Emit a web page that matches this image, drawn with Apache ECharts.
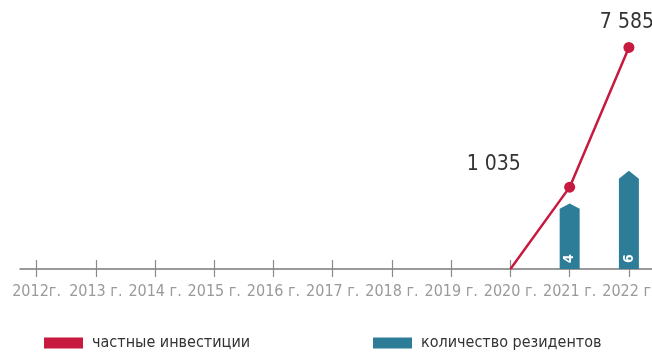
<!DOCTYPE html>
<html>
<head>
<meta charset="utf-8">
<script src="https://cdn.jsdelivr.net/npm/echarts@6/dist/echarts.min.js"></script>
<style>
html,body{margin:0;padding:0;background:#fff;}
#c{width:652px;height:354px;}
</style>
</head>
<body>
<div id="c"></div>
<script>
const years = [2012, 2013, 2014, 2015, 2016, 2017, 2018, 2019, 2020, 2021, 2022];
const yearLabels = ['2012г.', '2013 г.', '2014 г.', '2015 г.', '2016 г.', '2017 г.', '2018 г.', '2019 г.', '2020 г.', '2021 г.', '2022 г.'];
const investYears = [2020, 2021, 2022];
const investments = [0, 1035, 7585];
const residentYears = [2021, 2022];
const residents = [4, 6];
const seriesNames = ['частные инвестиции', 'количество резидентов'];

const RED = '#c8193f';
const TEAL = '#2e7d98';
const FONT = "'Liberation Sans Narrow', 'DejaVu Sans Condensed', 'Liberation Sans', sans-serif";

function fmt(v) { return String(v).replace(/\B(?=(\d{3})+(?!\d))/g, ' '); }

const investLabelOffsets = [null, [-76, -2], [-2, -4]];
const lineData = investYears.map((y, i) => {
  const v = investments[i];
  const d = { value: [y, Math.sqrt(v)], raw: v };
  if (v === 0) { d.symbolSize = 0; d.label = { show: false }; }
  else d.label = { show: true, position: 'top', offset: investLabelOffsets[i] };
  return d;
});
const barData = residentYears.map((y, i) => ({ value: [y, residents[i]] }));

const chart = echarts.init(document.getElementById('c'), null, { renderer: 'canvas' });
const xBase = { type: 'value', min: 2011.72, max: 2022.39, gridIndex: 0, position: 'bottom', offset: 0,
  splitLine: { show: false } };
chart.setOption({
  animation: false,
  backgroundColor: '#fff',
  grid: { left: 20, right: 0, top: 40, bottom: 85, containLabel: false, outerBoundsMode: 'none' },
  xAxis: [
    Object.assign({}, xBase, {
      axisLine: { show: true, lineStyle: { color: '#7a7a7a', width: 1.5 } },
      axisTick: { show: true, inside: false, length: 8, customValues: years, lineStyle: { color: '#8a8a8a', width: 1.2 } },
      axisLabel: { show: true, customValues: years, margin: 15, color: '#9a9a9a', fontSize: 16, fontFamily: FONT,
        hideOverlap: false, formatter: v => yearLabels[years.indexOf(Math.round(v))] }
    }),
    Object.assign({}, xBase, {
      axisLine: { show: false },
      axisTick: { show: true, inside: true, length: 9, customValues: years, lineStyle: { color: '#8a8a8a', width: 1.2 } },
      axisLabel: { show: false }
    })
  ],
  yAxis: [
    { type: 'value', min: 0, max: 90, show: false, splitLine: { show: false } },
    { type: 'value', min: 0, max: 14, show: false, splitLine: { show: false } }
  ],
  legend: [
    { data: [{ name: seriesNames[0], icon: 'rect' }], left: 39, top: 330, itemWidth: 39, itemHeight: 11,
      textStyle: { color: '#333', fontSize: 16, fontFamily: FONT, padding: [0, 0, 0, 4] } },
    { data: [{ name: seriesNames[1], icon: 'rect' }], left: 368, top: 330, itemWidth: 39, itemHeight: 11,
      textStyle: { color: '#333', fontSize: 16, fontFamily: FONT, padding: [0, 0, 0, 4] } }
  ],
  series: [
    {
      name: seriesNames[1], type: 'pictorialBar', xAxisIndex: 0, yAxisIndex: 1,
      symbol: 'path://M0,8 L10,0 L20,8 L20,100 L0,100 Z',
      symbolSize: [20, '100%'], symbolPosition: 'start',
      itemStyle: { color: TEAL },
      label: { show: true, position: 'insideBottom', distance: 6, rotate: 90, color: '#fff', fontSize: 14,
        fontWeight: 'bold', fontFamily: FONT, align: 'left', verticalAlign: 'middle' },
      data: barData, z: 2
    },
    {
      name: seriesNames[0], type: 'line', xAxisIndex: 0, yAxisIndex: 0,
      symbol: 'circle', symbolSize: 11,
      lineStyle: { color: RED, width: 2.5 }, itemStyle: { color: RED },
      label: { color: '#333', fontSize: 21, fontFamily: FONT, formatter: p => fmt(p.data.raw) },
      data: lineData, z: 3
    }
  ]
});
</script>
</body>
</html>
